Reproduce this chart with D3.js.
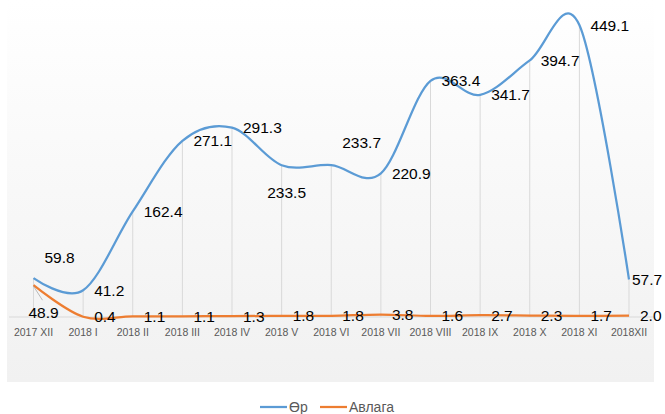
<!DOCTYPE html>
<html>
<head>
<meta charset="utf-8">
<script src="https://cdn.jsdelivr.net/npm/d3@7"></script>
<style>
  body { margin: 0; background: #fff; }
  svg { display: block; }
</style>
</head>
<body>
<div id="chart"></div>
<script>
// months on the category axis
var months = ["2017 XII", "2018 I", "2018 II", "2018 III", "2018 IV", "2018 V", "2018 VI",
              "2018 VII", "2018 VIII", "2018 IX", "2018 X", "2018 XI", "2018XII"];
// Өр (payables)
var debt = [59.8, 41.2, 162.4, 271.1, 291.3, 233.5, 233.7, 220.9, 363.4, 341.7, 394.7, 449.1, 57.7];
// Авлага (receivables)
var recv = [48.9, 0.4, 1.1, 1.1, 1.3, 1.8, 1.8, 3.8, 1.6, 2.7, 2.3, 1.7, 2.0];

var width = 665, height = 414;
var blue = "#5b9bd5", orange = "#ed7d31";

var svg = d3.select("#chart")
    .append("svg")
    .attr("width", width)
    .attr("height", height)

// background panel with soft vertical gradient
var grad = svg.append("defs").append("linearGradient")
    .attr("id", "bg")
    .attr("x1", 0).attr("y1", 0).attr("x2", 0).attr("y2", 1)
grad.append("stop").attr("offset", "0%").attr("stop-color", "#ffffff")
grad.append("stop").attr("offset", "100%").attr("stop-color", "#f1f1f1")

svg.append("rect")
    .attr("x", 7).attr("y", 0)
    .attr("width", 647).attr("height", 382)
    .attr("fill", "url(#bg)")

var x = d3.scalePoint()
    .domain(months)
    .range([33.5, 629])

var y = d3.scaleLinear()
    .domain([0, 500])
    .range([317, -8])

// drop lines
svg.selectAll(".drop")
    .data(months)
    .enter()
    .append("line")
    .attr("class", "drop")
    .attr("x1", function(d) { return x(d); })
    .attr("x2", function(d) { return x(d); })
    .attr("y1", function(d, i) { return y(Math.max(debt[i], recv[i])); })
    .attr("y2", y(0))
    .attr("stroke", "#d9d9d9")
    .attr("stroke-width", 1)

// axis line
svg.append("line")
    .attr("x1", 9).attr("x2", 654)
    .attr("y1", y(0)).attr("y2", y(0))
    .attr("stroke", "#d9d9d9")

// category labels
svg.selectAll(".xlab")
    .data(months)
    .enter()
    .append("text")
    .attr("class", "xlab")
    .attr("x", function(d) { return x(d); })
    .attr("y", 332)
    .attr("dy", "0.35em")
    .attr("text-anchor", "middle")
    .attr("font-family", "Liberation Sans Narrow, Liberation Sans, sans-serif")
    .attr("font-size", "10.5px")
    .attr("fill", "#595959")
    .text(function(d) { return d; })

var line = d3.line()
    .x(function(d, i) { return x(months[i]); })
    .y(function(d) { return y(d); })
    .curve(d3.curveCardinal.tension(0))

svg.append("path")
    .datum(recv)
    .attr("d", line)
    .attr("fill", "none")
    .attr("stroke", orange)
    .attr("stroke-width", 2.25)

svg.append("path")
    .datum(debt)
    .attr("d", line)
    .attr("fill", "none")
    .attr("stroke", blue)
    .attr("stroke-width", 2.25)

// data labels: default sits right of the point, a few were moved by hand
var debtShift = { 0: [26, -21, "middle"], 5: [5, 27, "middle"], 6: [11, -23, "start"], 12: [3, 0, "start"] };
var recvShift = { 0: [10, 27, "middle"] };

function addLabels(values, shift) {
    svg.selectAll(null)
        .data(values)
        .enter()
        .append("text")
        .attr("x", function(d, i) { return x(months[i]) + (shift[i] ? shift[i][0] : 11); })
        .attr("y", function(d, i) { return y(d) + (shift[i] ? shift[i][1] : 0); })
        .attr("dy", "0.35em")
        .attr("text-anchor", function(d, i) { return shift[i] ? shift[i][2] : "start"; })
        .attr("font-family", "Liberation Sans, Arial, sans-serif")
        .attr("font-size", "15.5px")
        .attr("fill", "#000")
        .text(function(d) { return d.toFixed(1); })
}

// leader line for the moved 48.9 label
svg.append("line")
    .attr("x1", x(months[0])).attr("y1", y(recv[0]) + 1)
    .attr("x2", x(months[0]) + 9).attr("y2", y(recv[0]) + 15)
    .attr("stroke", "#a6a6a6")
    .attr("stroke-width", 0.75)

addLabels(debt, debtShift)
addLabels(recv, recvShift)

// legend
var legend = [["Өр", blue, 260], ["Авлага", orange, 320]];
var lg = svg.selectAll(".legend")
    .data(legend)
    .enter()
    .append("g")
    .attr("class", "legend")
    .attr("transform", function(d) { return "translate(" + d[2] + ",407)"; })

lg.append("line")
    .attr("x1", 0).attr("x2", 27)
    .attr("stroke", function(d) { return d[1]; })
    .attr("stroke-width", 2.25)

lg.append("text")
    .attr("x", 29)
    .attr("dy", "0.35em")
    .attr("font-family", "Liberation Sans, Arial, sans-serif")
    .attr("font-size", "14px")
    .attr("fill", "#595959")
    .text(function(d) { return d[0]; })
</script>
</body>
</html>
